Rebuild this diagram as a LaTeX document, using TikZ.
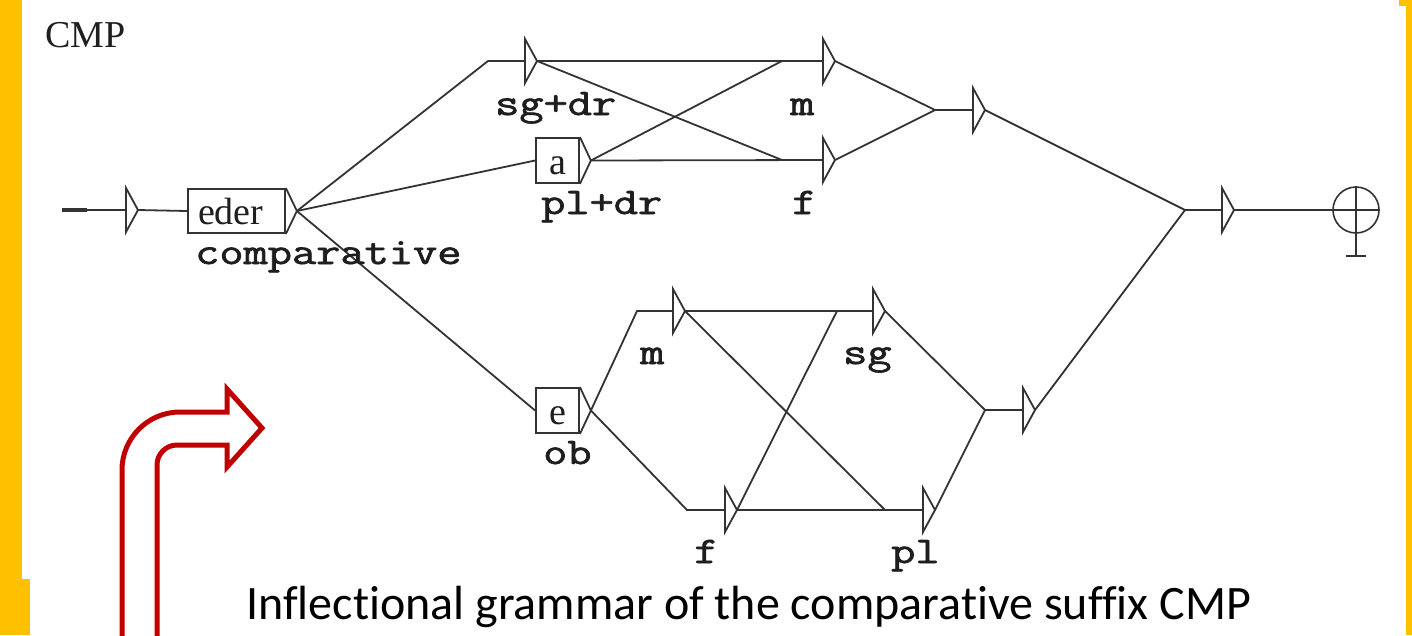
\documentclass[tikz,border=0pt]{standalone}
\usepackage{fontspec}
\setmainfont{Liberation Serif}
\newfontfamily\capfont[Ligatures={NoCommon}]{Carlito}
\newfontfamily\cour[FakeBold=1.6]{Latin Modern Mono}
\usetikzlibrary{calc}
\definecolor{frameyellow}{HTML}{FFC000}
\definecolor{ink}{HTML}{333333}
\definecolor{txt}{HTML}{1E1E1E}
\definecolor{darkred}{HTML}{C00000}
\newcommand\lbltext[1]{\scalebox{1}[0.8]{#1}}
\tikzset{
  wire/.style={draw=ink, line width=1.8pt},
  trist/.style={draw=ink, line width=1.8pt, line join=miter},
  boxst/.style={draw=ink, line width=1.8pt, rectangle, inner sep=0pt,
    text height=27pt, text depth=0pt, text=txt, font=\fontsize{38}{38}\selectfont},
  lbl/.style={anchor=base west, inner sep=0pt, font=\cour\fontsize{47}{47}\selectfont, text=txt},
  redarrow/.style={draw=darkred, line width=5pt, line join=miter},
}
\newcommand\tri[3]{%
  \coordinate (#1) at (#2,#3);
  \coordinate (#1t) at (#2+12,#3);
  \draw[trist] (#2,#3-22) -- (#2+12,#3) -- (#2,#3+22) -- cycle;}
\newcommand\btri[1]{%
  \coordinate (#1t) at ($(#1.east)+(11,0)$);
  \draw[trist] (#1.north east) -- (#1t) -- (#1.south east);}
\begin{document}
\begin{tikzpicture}[x=1pt,y=-1pt]
\useasboundingbox (0,0) rectangle (1412,635);
% yellow frame bars
\fill[fill=frameyellow] (0,0) rectangle (22,579);
\fill[fill=frameyellow] (0,579) rectangle (30,635);
\fill[fill=frameyellow] (1399,0) rectangle (1412,6);
\fill[fill=frameyellow] (1406,0) rectangle (1412,635);

% title
\node[anchor=base west, inner sep=0pt, font=\fontsize{38}{38}\selectfont, text=txt] (title) at (45,47) {CMP};

% boxes
\node[boxst, minimum width=97pt, minimum height=44pt, text width=77pt, inner xsep=10pt, align=left] (bEder) at (236.5,211) {eder};
\btri{bEder}
\node[boxst, minimum width=43pt, minimum height=45pt] (bA) at (557.5,160.5) {a};
\btri{bA}
\node[boxst, minimum width=43pt, minimum height=45pt] (bE) at (557.5,410.5) {e};
\btri{bE}

% triangles (states)
\tri{init}{126}{210}
\tri{sgdr}{525}{61}
\tri{tm}{823}{61}
\tri{tf}{823}{160}
\tri{tj}{973}{110}
\tri{lm}{673}{311}
\tri{lf}{725}{510}
\tri{lsg}{873}{311}
\tri{lpl}{923}{510}
\tri{lj}{1023}{410}
\tri{ftri}{1222}{210}

% final state
\node[circle, draw=ink, line width=1.6pt, minimum size=46pt, inner sep=0pt] (fin) at (1356,210) {};
\draw[ink, line width=1.6pt] (fin.west) -- (fin.east);
\draw[ink, line width=1.6pt] (fin.north) -- ($(fin.south)+(0,22)$);
\draw[ink, line width=1.6pt] ($(fin.south)+(-10,22)$) -- ($(fin.south)+(10,22)$);

% bend points
\coordinate (start) at (62,210);
\coordinate (b1) at (488,61);
\coordinate (c1) at (782,160);
\coordinate (c2) at (782,61);
\coordinate (j1) at (935,110);
\coordinate (j3) at (1185,210);
\coordinate (c3) at (637,311);
\coordinate (c4) at (687,510);
\coordinate (c5) at (885,510);
\coordinate (c6) at (837,311);
\coordinate (j2) at (985,410);

% connectors
\draw[ink, line width=4pt] (start) -- ++(25,0);
\draw[wire] (start) -- (init);
\draw[wire] (initt) -- (bEder.west);
\draw[wire] (bEdert) -- (b1) -- (sgdr);
\draw[wire] (bEdert) -- (bA.west);
\draw[wire] (bEdert) -- (bE.west);
\draw[wire] (sgdrt) -- (tm);
\draw[wire] (sgdrt) -- (c1) -- (tf);
\draw[wire] (bAt) -- (c2) -- (tm);
\draw[wire] (bAt) -- (tf);
\draw[wire] (tmt) -- (j1) -- (tj);
\draw[wire] (tft) -- (j1);
\draw[wire] (tjt) -- (j3) -- (ftri);
\draw[wire] (bEt) -- (c3) -- (lm);
\draw[wire] (bEt) -- (c4) -- (lf);
\draw[wire] (lmt) -- (lsg);
\draw[wire] (lmt) -- (c5) -- (lpl);
\draw[wire] (lft) -- (c6) -- (lsg);
\draw[wire] (lft) -- (lpl);
\draw[wire] (lsgt) -- (j2) -- (lj);
\draw[wire] (lplt) -- (j2);
\draw[wire] (ljt) -- (j3);
\draw[wire] (ftrit) -- (fin.west);

% labels
\node[lbl] (lcomp) at (195,264) {\lbltext{comparative}};
\node[lbl] (lsgdr) at (495,115) {\lbltext{sg+dr}};
\node[lbl] (lpldr) at (541,214) {\lbltext{pl+dr}};
\node[lbl] (ltm) at (790,115) {\lbltext{m}};
\node[lbl] (ltf) at (792,214) {\lbltext{f}};
\node[lbl] (lob) at (543,464) {\lbltext{ob}};
\node[lbl] (llm) at (640,364) {\lbltext{m}};
\node[lbl] (llsg) at (843,364) {\lbltext{sg}};
\node[lbl] (llf) at (694,563) {\lbltext{f}};
\node[lbl] (llpl) at (891,563) {\lbltext{pl}};

% red bent arrow
\draw[redarrow] (122,640) -- (122,470) .. controls (122,438) and (148,412) .. (180,412)
  -- (227,412) -- (227,389) -- (262,428) -- (227,467) -- (227,445) -- (177,445)
  .. controls (166,445) and (157,454) .. (157,465) -- (157,640);

% caption
\node[anchor=base west, inner sep=0pt, font=\capfont\fontsize{48}{48}\selectfont, text=black] (cap) at (246,619) {Inflectional grammar of the comparative suffix CMP};
\end{tikzpicture}
\end{document}
